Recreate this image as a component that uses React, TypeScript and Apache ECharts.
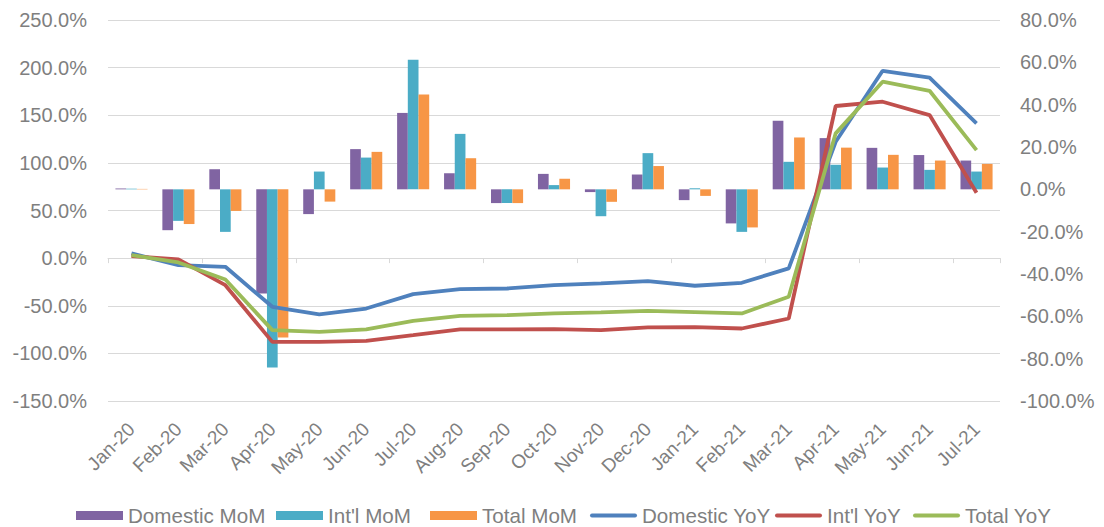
import React, { useEffect, useRef } from "react";
import * as echarts from "echarts";

const months = [
  "Jan-20", "Feb-20", "Mar-20", "Apr-20", "May-20", "Jun-20", "Jul-20", "Aug-20", "Sep-20", "Oct-20",
  "Nov-20", "Dec-20", "Jan-21", "Feb-21", "Mar-21", "Apr-21", "May-21", "Jun-21", "Jul-21",
];

const domesticMoM = [0.4, -19.3, 9.5, -49.2, -11.7, 19.0, 36.1, 7.6, -6.5, 7.3, -1.3, 7.0, -5.1, -16.1, 32.4, 24.2, 19.6, 16.2, 13.6];
const intlMoM = [0.3, -14.9, -20.1, -84.2, 8.4, 15.0, 61.2, 26.2, -6.5, 2.0, -12.7, 17.1, 0.5, -20.1, 13.0, 11.6, 10.3, 9.2, 8.4];
const totalMoM = [0.2, -16.4, -10.2, -70.0, -5.8, 17.7, 44.8, 14.7, -6.5, 5.0, -5.9, 11.0, -3.1, -18.0, 24.5, 19.7, 16.3, 13.6, 12.0];

const domesticYoY = [4.9, -7.4, -9.1, -51.1, -59.1, -52.9, -37.8, -32.6, -31.9, -28.4, -26.6, -24.2, -29.0, -25.9, -10.8, 122.2, 196.7, 189.4, 141.5];
const intlYoY = [2.1, -1.4, -28.4, -87.9, -87.9, -86.8, -80.9, -74.9, -74.9, -74.6, -75.6, -72.8, -72.5, -73.9, -63.4, 159.7, 164.2, 150.2, 68.6];
const totalYoY = [3.2, -4.5, -22.4, -75.6, -77.4, -74.9, -65.8, -60.6, -59.9, -58.1, -57.0, -55.3, -56.7, -58.1, -40.6, 131.0, 185.2, 175.7, 113.4];

const legendNames = ["Domestic MoM", "Int'l MoM", "Total MoM", "Domestic YoY", "Int'l YoY", "Total YoY"];
const legendLeft = [76, 276, 430, 590, 775, 913];

const FONT = "'Liberation Sans', Arial, sans-serif";
const TXT = "#7f7f7f";
const LINE_ICON = "path://M2,0 L45,0 A2,2 0 0 1 45,4 L2,4 A2,2 0 0 1 2,0 Z";

export default function App() {
  const ref = useRef<HTMLDivElement>(null);
  useEffect(() => {
    if (!ref.current) return;
    const chart = echarts.init(ref.current, null, { renderer: "svg" });
    const pct = (v: number) => `${v.toFixed(1)}%`;
    const bar = (name: string, data: number[], color: string) => ({
      name,
      type: "bar",
      xAxisIndex: 0,
      yAxisIndex: 1,
      data,
      barWidth: 10.7,
      barGap: "0%",
      itemStyle: { color },
      z: 2,
    });
    const line = (name: string, data: number[], color: string) => ({
      name,
      type: "line",
      xAxisIndex: 0,
      yAxisIndex: 0,
      data,
      symbol: "none",
      lineStyle: { color, width: 3.8 },
      itemStyle: { color },
      z: 3,
    });
    const legends = legendNames.map((name, i) => ({
      left: legendLeft[i],
      top: 505,
      padding: 0,
      itemWidth: 47,
      itemHeight: 9,
      symbolKeepAspect: true,
      selectedMode: false,
      textStyle: { color: TXT, fontSize: 20.6, fontFamily: FONT },
      data: [{ name, icon: i < 3 ? "rect" : LINE_ICON }],
    }));
    chart.setOption({
      animation: false,
      textStyle: { fontFamily: FONT },
      grid: { left: 108, right: 104, top: 20, bottom: 126 },
      legend: legends,
      xAxis: [
        {
          type: "category",
          data: months,
          position: "bottom",
          axisLine: { show: false, onZero: false },
          axisTick: { show: false },
          axisLabel: { rotate: 45, margin: 25, color: TXT, fontSize: 19, fontFamily: FONT, interval: 0 },
        },
        {
          type: "category",
          data: months,
          position: "bottom",
          axisLine: { show: true, onZero: true, onZeroAxisIndex: 0, lineStyle: { color: "#d9d9d9", width: 1 } },
          axisTick: { show: true, length: 5, lineStyle: { color: "#d9d9d9" } },
          axisLabel: { show: false },
        },
      ],
      yAxis: [
        {
          type: "value",
          min: -150,
          max: 250,
          interval: 50,
          position: "left",
          axisLine: { show: false },
          axisTick: { show: false },
          splitLine: { show: true, lineStyle: { color: "#d9d9d9", width: 1 } },
          axisLabel: { formatter: pct, color: TXT, fontSize: 20, fontFamily: FONT, margin: 21 },
        },
        {
          type: "value",
          min: -100,
          max: 80,
          interval: 20,
          position: "right",
          axisLine: { show: false },
          axisTick: { show: false },
          splitLine: { show: false },
          axisLabel: { formatter: pct, color: TXT, fontSize: 20, fontFamily: FONT, margin: 20 },
        },
      ],
      series: [
        bar("Domestic MoM", domesticMoM, "#8064A2"),
        bar("Int'l MoM", intlMoM, "#4BACC6"),
        bar("Total MoM", totalMoM, "#F79646"),
        line("Domestic YoY", domesticYoY, "#4F81BD"),
        line("Int'l YoY", intlYoY, "#C0504D"),
        line("Total YoY", totalYoY, "#9BBB59"),
      ],
    });
    return () => chart.dispose();
  }, []);
  return (
    <div
      ref={ref}
      style={{ position: "fixed", left: 0, top: 0, width: 1104, height: 527, background: "#fff" }}
    />
  );
}
